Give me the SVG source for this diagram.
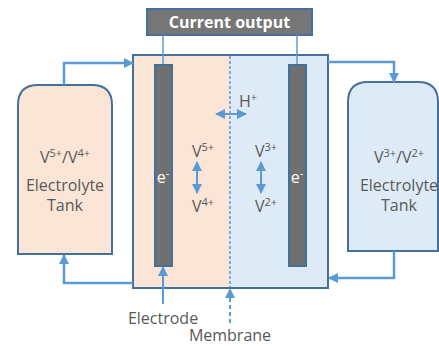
<svg xmlns="http://www.w3.org/2000/svg" width="439" height="346" viewBox="0 0 439 346">
<defs>
<marker id="ah" viewBox="0 0 10 10" refX="9" refY="5" markerWidth="4" markerHeight="4" orient="auto-start-reverse" markerUnits="strokeWidth">
<path d="M0,0 L10,5 L0,10 Z" fill="#5b9bd5"/>
</marker>
<marker id="ahs" viewBox="0 0 10 10" refX="9" refY="5" markerWidth="5" markerHeight="5" orient="auto-start-reverse" markerUnits="strokeWidth">
<path d="M0,0 L10,5 L0,10 Z" fill="#5b9bd5"/>
</marker>
</defs>
<style>
.box{stroke:#41719c;stroke-width:2}
.lbl{font-family:"Open Sans","Noto Sans","Liberation Sans",sans-serif;font-size:16px;fill:#595959;text-anchor:middle}
.sup{font-size:11px}
.wt{fill:#ffffff}
.con{fill:none;stroke:#5b9bd5;stroke-width:2.5}
.thin{fill:none;stroke:#5b9bd5;stroke-width:2}
</style>
<rect width="439" height="346" fill="#ffffff"/>

<g id="cell">
<rect x="133" y="55" width="97" height="233" fill="#fbe5d6"/>
<rect x="230" y="55" width="98" height="233" fill="#deebf7"/>
<rect x="133" y="55" width="195" height="233" fill="none" class="box"/>
</g>
<g id="membrane">
<line x1="230" y1="56" x2="230" y2="287" stroke="#5b9bd5" stroke-width="1.5" stroke-dasharray="3,2"/>
</g>

<g id="current-output">
<rect x="147" y="9" width="165" height="26" fill="#767676" class="box"/>
<text x="229.5" y="28" class="lbl wt" style="font-weight:bold">Current output</text>
</g>

<g id="left-electrode">
<rect x="155" y="65" width="17" height="201" fill="#707070" class="box"/>
<text x="163" y="183" class="lbl wt">e<tspan class="sup" dy="-6">-</tspan></text>
</g>
<g id="right-electrode">
<rect x="289" y="65" width="17" height="201" fill="#707070" class="box"/>
<text x="297" y="183" class="lbl wt">e<tspan class="sup" dy="-6">-</tspan></text>
</g>

<g id="left-tank">
<path d="M18,254 L18,105 Q18,85 38,85 L92,85 Q112,85 112,105 L112,254 Z" fill="#fbe5d6" class="box"/>
<text x="65" y="163" class="lbl">V<tspan class="sup" dy="-6">5+</tspan><tspan dy="6">/V</tspan><tspan class="sup" dy="-6">4+</tspan></text>
<text x="65" y="191" class="lbl">Electrolyte</text>
<text x="65" y="211" class="lbl">Tank</text>
</g>

<g id="right-tank">
<path d="M348,251 L348,102 Q348,82 368,82 L418,82 Q438,82 438,102 L438,251 Z" fill="#deebf7" class="box"/>
<text x="399" y="163" class="lbl">V<tspan class="sup" dy="-6">3+</tspan><tspan dy="6">/V</tspan><tspan class="sup" dy="-6">2+</tspan></text>
<text x="399" y="191" class="lbl">Electrolyte</text>
<text x="399" y="211" class="lbl">Tank</text>
</g>

<g id="left-species">
<text x="203" y="157" class="lbl">V<tspan class="sup" dy="-6">5+</tspan></text>
<text x="203" y="212" class="lbl">V<tspan class="sup" dy="-6">4+</tspan></text>
</g>
<g id="right-species">
<text x="266" y="157" class="lbl">V<tspan class="sup" dy="-6">3+</tspan></text>
<text x="266" y="212" class="lbl">V<tspan class="sup" dy="-6">2+</tspan></text>
</g>
<g id="proton">
<text x="248" y="107" class="lbl">H<tspan class="sup" dy="-6">+</tspan></text>
</g>

<g id="labels">
<text x="163" y="324" class="lbl">Electrode</text>
<text x="230" y="341" class="lbl">Membrane</text>
</g>

<g id="connectors">
<line x1="163" y1="35" x2="163" y2="64" stroke="#5b9bd5" stroke-width="1.5"/>
<line x1="297" y1="35" x2="297" y2="64" stroke="#5b9bd5" stroke-width="1.5"/>
<path d="M64,85 L64,63 L133,63" class="con" marker-end="url(#ah)"/>
<path d="M328,62 L394,62 L394,82" class="con" marker-end="url(#ah)"/>
<path d="M394,251 L394,278 L329,278" class="con" marker-end="url(#ah)"/>
<path d="M133,283 L64,283 L64,255" class="con" marker-end="url(#ah)"/>
<path d="M216,114 L246,114" class="thin" marker-start="url(#ahs)" marker-end="url(#ahs)"/>
<path d="M197,162 L197,193" class="thin" marker-start="url(#ahs)" marker-end="url(#ahs)"/>
<path d="M261,162 L261,193" class="thin" marker-start="url(#ahs)" marker-end="url(#ahs)"/>
<path d="M163,304 L163,267" class="thin" marker-end="url(#ahs)"/>
<path d="M230,323 L230,289" class="thin" stroke-dasharray="4,3" marker-end="url(#ahs)"/>
</g>
</svg>
